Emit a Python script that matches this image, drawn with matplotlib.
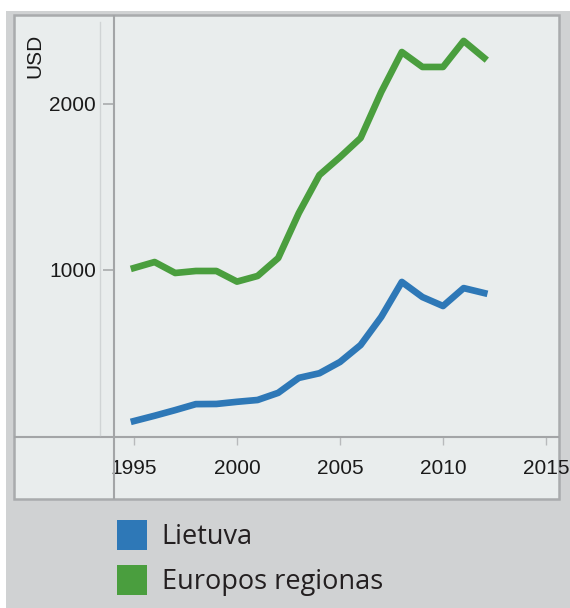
import matplotlib.pyplot as plt
from matplotlib.patches import Patch, Rectangle
from matplotlib.lines import Line2D

plt.rcParams['font.family'] = ['Liberation Sans', 'DejaVu Sans']

# Duomenys

years = list(range(1995, 2013))
lietuva = [90, 122, 156, 192, 193, 206, 217, 260, 350, 378, 446, 548, 717, 928, 837, 783, 891, 861]
europa = [1012, 1048, 982, 994, 994, 930, 964, 1072, 1343, 1572, 1680, 1795, 2072, 2313, 2223, 2223, 2380, 2277]
x_ticks = [1995, 2000, 2005, 2010, 2015]
y_ticks = [1000, 2000]
labels = ['Lietuva', 'Europos regionas']

blue = '#2e78b7'
green = '#4a9e3e'
panel = '#e9eded'
outer = '#d0d2d3'
edge = '#a9abad'

W, H = 570, 608


def fx(px):
    return px / W


def fy(py):
    return 1 - py / H


fig = plt.figure(figsize=(W / 100, H / 100), dpi=100)
fig.patch.set_facecolor('white')

# Fonas
fig.add_artist(Rectangle((fx(6), fy(608)), fx(564), 597 / H, transform=fig.transFigure,
                         facecolor=outer, edgecolor='none', zorder=-3))
fig.add_artist(Rectangle((fx(14), fy(499)), fx(545), 484 / H, transform=fig.transFigure,
                         facecolor=panel, edgecolor=edge, lw=1.8, zorder=-2))

ax = fig.add_axes([fx(114), fy(437), fx(444), 421 / H])
ax.set_facecolor('none')

ax.plot(years, lietuva, color=blue, lw=4.8)
ax.plot(years, europa, color=green, lw=4.8)

ax.set_xlim(1994.03, 2015.58)
ax.set_ylim(-6, 2530)
ax.set_xticks(x_ticks)
ax.set_yticks(y_ticks)
for s in ax.spines.values():
    s.set_visible(False)

ax.tick_params(axis='x', length=6, width=1, color='#b8babc', pad=10, labelsize=15,
               labelcolor='#1a1a1a')
ax.tick_params(axis='y', length=8, width=1.2, color='#a9abad', pad=5, labelsize=15,
               labelcolor='#1a1a1a')

# Rėmo linijos
fig.add_artist(Line2D([fx(114), fx(114)], [fy(16), fy(498)], transform=fig.transFigure,
                      color='#a3a5a7', lw=1.5))
fig.add_artist(Line2D([fx(15), fx(558)], [fy(437), fy(437)], transform=fig.transFigure,
                      color='#a3a5a7', lw=1.5))
fig.add_artist(Line2D([fx(100), fx(100)], [fy(22), fy(435)], transform=fig.transFigure,
                      color='#d0d4d5', lw=1))

fig.text(fx(35), fy(56), 'USD', rotation=90, ha='center', va='center',
         fontsize=15, color='#1a1a1a')

handles = [Patch(facecolor=blue, edgecolor='none'), Patch(facecolor=green, edgecolor='none')]
leg = fig.legend(handles, labels, loc='upper left', bbox_to_anchor=(fx(117), fy(520)),
                 frameon=False, borderpad=0, borderaxespad=0, handlelength=1.1,
                 handleheight=1.35, handletextpad=0.55, labelspacing=0.5,
                 prop={'family': 'Open Sans', 'size': 19.5})
for t in leg.get_texts():
    t.set_color('#231f20')

fig.savefig('out.png', dpi=100)
